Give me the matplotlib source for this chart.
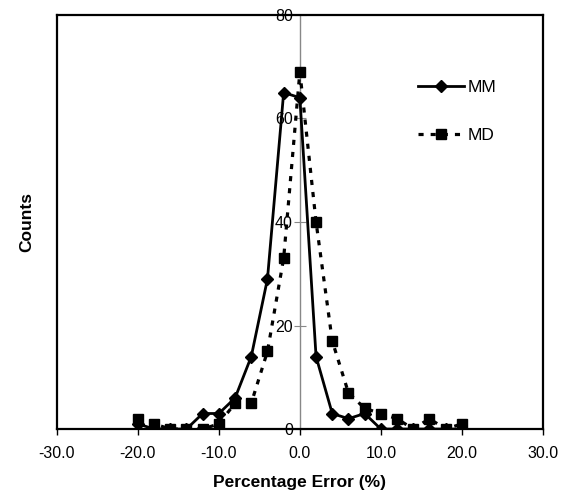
import numpy as np
import matplotlib.pyplot as plt
from matplotlib.lines import Line2D

plt.rcParams['font.family'] = ['Liberation Sans', 'DejaVu Sans']

# percentage error bins
error_pct = [-20, -18, -16, -14, -12, -10, -8, -6, -4, -2, 0,
             2, 4, 6, 8, 10, 12, 14, 16, 18, 20]
mm_counts = [1, 0, 0, 0, 3, 3, 6, 14, 29, 65, 64,
             14, 3, 2, 3, 0, 0, 0, 0, 0, 0]
md_counts = [2, 1, 0, 0, 0, 1, 5, 5, 15, 33, 69,
             40, 17, 7, 4, 3, 2, 0, 2, 0, 1]

x_ticks = [-30, -20, -10, 0, 10, 20, 30]
y_ticks = [0, 20, 40, 60, 80]

MD_DASH = (0, (1.6, 2.2))

fig = plt.figure(figsize=(5.69, 4.96), dpi=100)
ax = fig.add_axes([0.100, 0.135, 0.854, 0.835])

ax.plot(error_pct, mm_counts, color='black', lw=2, marker='D', ms=6,
        label='MM', zorder=3)
ax.plot(error_pct, md_counts, color='black', lw=2.3, ls=MD_DASH,
        marker='s', ms=6.5, label='MD', zorder=3)

ax.set_xlim(-30, 30)
ax.set_ylim(0, 80)
ax.set_xticks(x_ticks)
ax.set_xticklabels([f'{v:.1f}' for v in x_ticks], fontsize=11.5)
ax.tick_params(axis='x', direction='out', length=4, width=1, pad=8)
ax.set_yticks([])
for s in ax.spines.values():
    s.set_linewidth(1.6)

# central y axis at x = 0
sec = ax.secondary_yaxis(0.5)
sec.set_yticks(y_ticks)
sec.set_yticklabels([str(v) for v in y_ticks], fontsize=11.5)
for side in ['left', 'right']:
    sec.spines[side].set_color('#888888')
    sec.spines[side].set_linewidth(1)
sec.tick_params(axis='y', direction='inout', length=8, width=0.8,
                color='#888888', pad=1, left=True, right=False,
                labelleft=True, labelright=False)

ax.set_xlabel('Percentage Error (%)', fontsize=12.5, fontweight='bold',
              labelpad=10)
ax.set_ylabel('Counts', fontsize=12.5, fontweight='bold', labelpad=16)

handles = [Line2D([], [], color='black', lw=2, marker='D', ms=6),
           Line2D([], [], color='black', lw=2.3, ls=MD_DASH,
                  marker='s', ms=6.5)]
ax.legend(handles, ['MM', 'MD'], loc='upper left',
          bbox_to_anchor=(0.71, 0.88), frameon=False, fontsize=12.5,
          labelspacing=1.9, handlelength=2.7, handletextpad=0.2)

fig.savefig('out.png', dpi=100)
